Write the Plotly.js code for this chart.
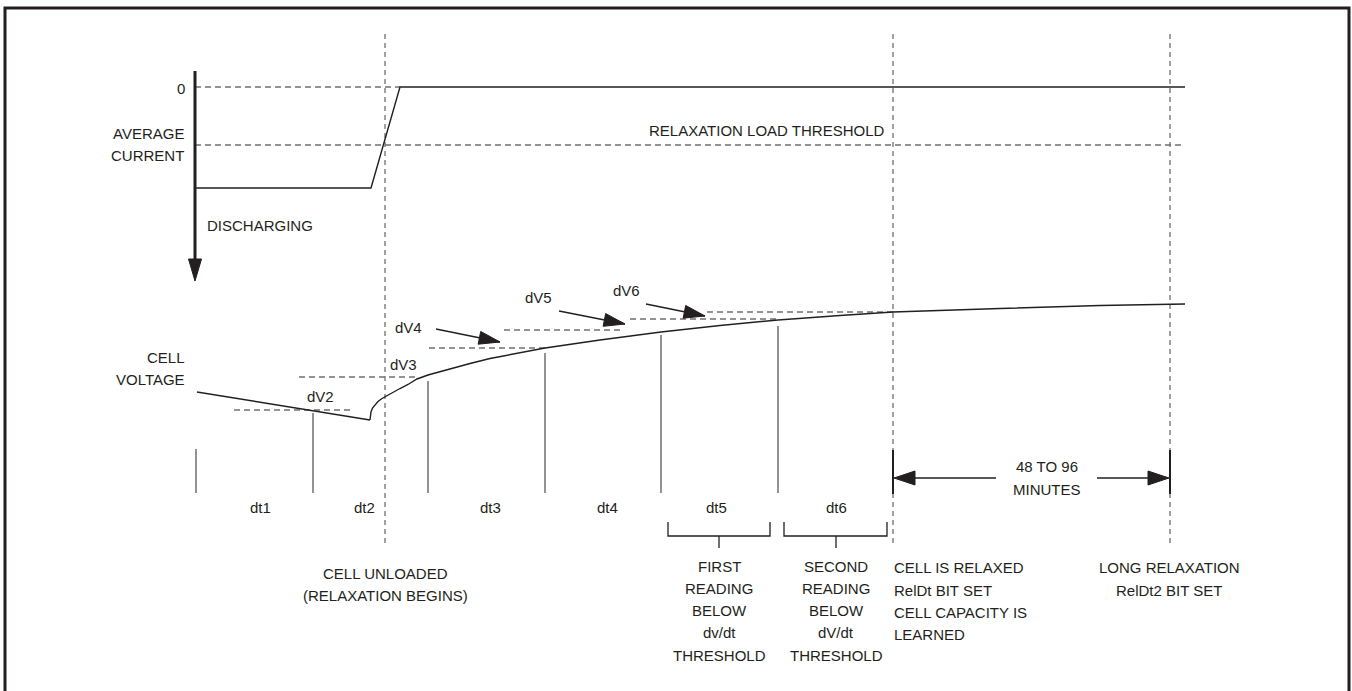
<!DOCTYPE html>
<html><head><meta charset="utf-8">
<script src="https://cdn.plot.ly/plotly-3.0.1.min.js"></script>
<style>html,body{margin:0;padding:0;background:#fff;overflow:hidden}</style>
</head><body><div id="chart" style="width:1352px;height:691px"></div>
<script>
// ---- diagram data (drawing grid units) ----
const currentX = [195, 371, 400, 1185];
const currentY = [188, 188, 87, 87];
const zeroLevelX = [195, 400];
const zeroLevelY = [87, 87];
const thresholdX = [195, 1185];
const thresholdY = [145, 145];
const currentAxisX = [195, 195];
const currentAxisY = [71, 262];
const currentAxisTip = [195, 281];

const dischargeX = [197, 370];
const dischargeY = [392, 420];
const relaxX = [370, 370.3, 371, 372.5, 375, 378, 382, 387, 393, 400, 408, 417, 428, 440, 455, 470, 490, 510, 545, 600, 661, 720, 778, 840, 893, 1000, 1100, 1185];
const relaxY = [420, 416, 412, 408, 404.5, 401.5, 398.5, 395.5, 392, 388.5, 384.5, 379, 375, 371.5, 367.5, 363.5, 358.5, 354.5, 348, 340, 332, 325.5, 320, 315.5, 312, 308.5, 305.5, 304];

const dvLevelY  = [410, 377, 348, 330, 319, 312];
const dvLevelX0 = [234, 299, 429, 504, 630, 707];
const dvLevelX1 = [351, 416, 545, 620, 777, 893];

const sampleX = [196, 313, 428, 545, 661, 778];
const sampleTop = [449, 413, 381, 353, 335, 326];
const sampleBottom = 493;

const eventX = [385, 893, 1170];
const eventTop = 34;
const eventBottom = 547;

const dvArrowFrom = [[436, 329], [559, 311], [646, 304]];
const dvArrowTo   = [[500, 342], [625, 324], [705, 316]];

const dvLabels = ['dV2', 'dV3', 'dV4', 'dV5', 'dV6'];
const dvLabelX = [320, 403, 408, 538, 626];
const dvLabelY = [396, 364, 327, 297, 290];

const dtLabels = ['dt1', 'dt2', 'dt3', 'dt4', 'dt5', 'dt6'];
const dtLabelX = [260, 364, 490, 607, 716, 836];
const dtLabelY = 507;

const bracketX0 = [668, 784];
const bracketX1 = [770, 887];
const bracketStem = [719, 836];
const bracketTop = 522, bracketBase = 536, bracketStemEnd = 548;

const spanTickX = [893, 1170];
const spanTickY = [450, 494];
const spanY = 478;
const spanLeftFrom = 996, spanRightFrom = 1097;

const noteText = ['0', 'AVERAGE', 'CURRENT', 'DISCHARGING', 'CELL', 'VOLTAGE',
  'RELAXATION LOAD THRESHOLD', 'CELL UNLOADED', '(RELAXATION BEGINS)',
  'FIRST', 'READING', 'BELOW', 'dv/dt', 'THRESHOLD',
  'SECOND', 'READING', 'BELOW', 'dV/dt', 'THRESHOLD',
  'CELL IS RELAXED', 'RelDt BIT SET', 'CELL CAPACITY IS', 'LEARNED',
  '48 TO 96', 'MINUTES', 'LONG RELAXATION', 'RelDt2 BIT SET'];
const noteX = [181, 185, 185, 206, 186, 186,
  886, 385, 385,
  719, 719, 719, 719, 719,
  836, 836, 836, 836, 836,
  893, 893, 893, 893,
  1047, 1047, 1169, 1169];
const noteY = [88, 133, 155, 225, 357, 379,
  130, 573, 595,
  566, 588, 610, 632, 655,
  566, 588, 610, 632, 655,
  567, 590, 612, 634,
  466, 489, 567, 590];
const noteAnchor = ['center', 'right', 'right', 'left', 'right', 'right',
  'right', 'center', 'center',
  'center', 'center', 'center', 'center', 'center',
  'center', 'center', 'center', 'center', 'center',
  'left', 'left', 'left', 'left',
  'center', 'center', 'center', 'center'];

// ---- styles ----
const INK = '#231f20';
const DASH = '#707072';
const FONT = {family: '"Liberation Sans", Arial, sans-serif', size: 15, color: INK};

const traces = [];
function seg(xs, ys, color, width, dash) {
  traces.push({x: xs, y: ys, type: 'scatter', mode: 'lines', hoverinfo: 'skip',
    line: {color: color, width: width, dash: dash || 'solid'}});
}
function head(tip, from, len, half) {
  const dx = tip[0] - from[0], dy = tip[1] - from[1];
  const d = Math.hypot(dx, dy), ux = dx / d, uy = dy / d;
  const bx = tip[0] - ux * len, by = tip[1] - uy * len;
  traces.push({x: [tip[0], bx - uy * half, bx + uy * half, tip[0]],
    y: [tip[1], by + ux * half, by - ux * half, tip[1]],
    type: 'scatter', mode: 'lines', fill: 'toself', fillcolor: INK, hoverinfo: 'skip',
    line: {color: INK, width: 1}});
}
function joinSegs(x0s, x1s, y0s, y1s) {
  const X = [], Y = [];
  for (let i = 0; i < x0s.length; i++) { X.push(x0s[i], x1s[i], null); Y.push(y0s[i], y1s[i], null); }
  return [X, Y];
}

// dashed reference levels
seg(zeroLevelX, zeroLevelY, DASH, 1.3, '6px,4px');
seg(thresholdX, thresholdY, DASH, 1.3, '6px,4px');
let d = joinSegs(dvLevelX0, dvLevelX1, dvLevelY, dvLevelY);
seg(d[0], d[1], DASH, 1.3, '6px,4px');
// event verticals
d = joinSegs(eventX, eventX, eventX.map(() => eventTop), eventX.map(() => eventBottom));
seg(d[0], d[1], DASH, 1.3, '5px,4px');
// sample markers
d = joinSegs(sampleX, sampleX, sampleTop, sampleX.map(() => sampleBottom));
seg(d[0], d[1], '#4a4a4c', 1.2);
// current trace
seg(currentX, currentY, INK, 1.4);
// current axis arrow
seg(currentAxisX, currentAxisY, INK, 3);
head(currentAxisTip, [currentAxisX[0], currentAxisY[0]], 22, 6.5);
// voltage
seg(dischargeX, dischargeY, INK, 1.4);
seg(relaxX, relaxY, INK, 1.4);
// dV arrows
for (let i = 0; i < dvArrowFrom.length; i++) {
  seg([dvArrowFrom[i][0], dvArrowTo[i][0]], [dvArrowFrom[i][1], dvArrowTo[i][1]], INK, 1.4);
  head(dvArrowTo[i], dvArrowFrom[i], 21, 6.5);
}
// brackets
for (let i = 0; i < bracketX0.length; i++) {
  seg([bracketX0[i], bracketX0[i], bracketX1[i], bracketX1[i]], [bracketTop, bracketBase, bracketBase, bracketTop], INK, 1.3);
  seg([bracketStem[i], bracketStem[i]], [bracketBase, bracketStemEnd], INK, 1.3);
}
// 48-96 min span
d = joinSegs(spanTickX, spanTickX, spanTickX.map(() => spanTickY[0]), spanTickX.map(() => spanTickY[1]));
seg(d[0], d[1], INK, 2);
seg([spanLeftFrom, spanTickX[0] + 20], [spanY, spanY], INK, 1.4);
head([spanTickX[0] + 1, spanY], [spanLeftFrom, spanY], 21, 7);
seg([spanRightFrom, spanTickX[1] - 20], [spanY, spanY], INK, 1.4);
head([spanTickX[1] - 1, spanY], [spanRightFrom, spanY], 21, 7);

// annotations
const ann = [];
function txt(t, x, y, anchor) {
  ann.push({text: t, x: x, y: y, xref: 'x', yref: 'y', xanchor: anchor, yanchor: 'middle', showarrow: false, font: FONT, borderpad: 0});
}
dvLabels.forEach((t, i) => txt(t, dvLabelX[i], dvLabelY[i], 'center'));
dtLabels.forEach((t, i) => txt(t, dtLabelX[i], dtLabelY, 'center'));
noteText.forEach((t, i) => txt(t, noteX[i], noteY[i], noteAnchor[i]));

const layout = {
  width: 1352, height: 691, margin: {l: 0, r: 0, t: 0, b: 0},
  paper_bgcolor: '#fff', plot_bgcolor: '#fff', showlegend: false,
  xaxis: {range: [0, 1352], visible: false, fixedrange: true},
  yaxis: {range: [691, 0], visible: false, fixedrange: true},
  annotations: ann,
  shapes: [{type: 'rect', xref: 'x', yref: 'y', x0: 5, x1: 1349, y0: 8, y1: 700, line: {color: INK, width: 3}}]
};
Plotly.newPlot('chart', traces, layout, {displayModeBar: false, staticPlot: true});
</script></body></html>
